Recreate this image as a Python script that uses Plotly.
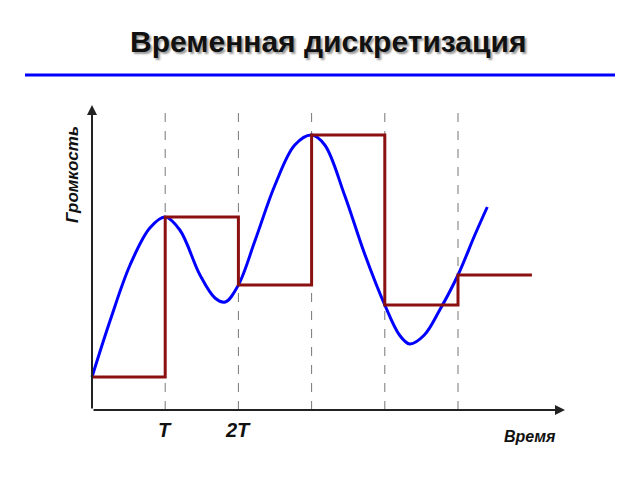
import plotly.graph_objects as go

T_PX = 73.2
OFF = 8  # page margin offset
# sampled values (height above x-axis, px-scale units)
sample_t = [0, 1, 2, 3, 4, 5]
sample_v = [33, 193, 125, 275, 105, 135]
step_end = 6.01
# continuous signal
curve_t = [0, 0.25, 0.52, 0.79, 1.0, 1.2, 1.475, 1.68, 1.82, 2.0, 2.23, 2.5, 2.77, 3.0, 3.18, 3.45, 3.73, 4.0, 4.2, 4.34, 4.54, 4.75, 5.0, 5.23, 5.4]
curve_v = [33, 90, 145, 182, 193, 180, 135, 112, 108, 125, 170, 225, 265, 275, 265, 215, 155, 105, 75, 66, 75, 100, 135, 175, 203]
tick_labels = ["T", "2T"]

fig = go.Figure()
fig.add_trace(go.Scatter(x=curve_t, y=curve_v, mode="lines", line=dict(color="#0000FF", width=3, shape="spline"), hoverinfo="skip"))
fig.add_trace(go.Scatter(x=sample_t + [step_end], y=sample_v + [sample_v[-1]], mode="lines",
                         line=dict(color="#8B1010", width=3, shape="hv"), hoverinfo="skip"))

for t in sample_t[1:]:
    fig.add_shape(type="line", x0=t, x1=t, y0=0, y1=305, line=dict(color="#777", width=1, dash="dash"), layer="below")
fig.add_shape(type="line", x0=(25-92)/T_PX, x1=(615-92)/T_PX, y0=335, y1=335, line=dict(color="#0000FF", width=3))

ax_style = dict(showarrow=True, arrowhead=2, arrowsize=1, arrowwidth=2, arrowcolor="#222", text="", axref="x", ayref="y")
fig.add_annotation(x=0, y=305, ax=0, ay=0, **ax_style)
fig.add_annotation(x=(565-92)/T_PX, y=0, ax=0, ay=0, **ax_style)

lab = dict(family="Liberation Sans", size=20, color="#111")
for i, s in enumerate(tick_labels):
    fig.add_annotation(x=i+1, y=-20, text=f"<b><i>{s}</i></b>", showarrow=False, font=lab)
fig.add_annotation(x=(530-92)/T_PX, y=-26, text="<b><i>Время</i></b>", showarrow=False, font=dict(family="Liberation Sans", size=16, color="#111"))
fig.add_annotation(x=(72-92)/T_PX, y=235, text="<b><i>Громкость</i></b>", showarrow=False, textangle=-90, font=dict(family="Liberation Sans", size=17, color="#111"))
fig.add_annotation(xref="paper", yref="paper", x=0.5, y=(480-42+OFF)/480, yanchor="middle", text="<b>Временная дискретизация</b>", showarrow=False,
                   font=dict(family="Liberation Sans", size=30, color="#111", shadow="2px 2px 2px #999"))

fig.update_layout(width=640, height=480, margin=dict(l=0, r=0, t=0, b=0), showlegend=False,
                  plot_bgcolor="white", paper_bgcolor="white",
                  xaxis=dict(range=[-(92-OFF)/T_PX, (640-92+OFF)/T_PX], visible=False, fixedrange=True),
                  yaxis=dict(range=[-70-OFF, 410-OFF], visible=False, fixedrange=True))
fig.write_html("out.html")
